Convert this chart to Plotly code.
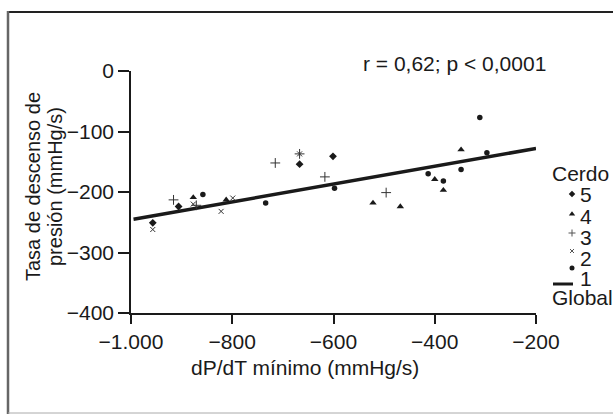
import plotly.graph_objects as go

# ---- data ----
cerdo5_x = [-957, -906, -667, -601]
cerdo5_y = [-251, -224, -154, -141]

cerdo4_x = [-877, -812, -522, -468, -400, -383, -348]
cerdo4_y = [-209, -213, -218, -224, -179, -197, -130]

cerdo3_x = [-916, -871, -715, -667, -617, -496]
cerdo3_y = [-213, -222, -152, -137, -175, -201]

cerdo2_x = [-957, -877, -822, -799, -667]
cerdo2_y = [-262, -220, -232, -210, -137]

cerdo1_x = [-858, -734, -598, -413, -383, -348, -311, -297]
cerdo1_y = [-204, -218, -194, -170, -182, -163, -77, -135]

global_x = [-995, -200]
global_y = [-245, -128]

x_ticks = [-1000, -800, -600, -400, -200]
x_ticktext = ["\u22121.000", "\u2212800", "\u2212600", "\u2212400", "\u2212200"]
y_ticks = [0, -100, -200, -300, -400]
y_ticktext = ["0", "\u2212100", "\u2212200", "\u2212300", "\u2212400"]

legend_title = "Cerdo"
legend_labels = ["5", "4", "3", "2", "1"]
legend_global = "Global"

FONT = "Liberation Sans, Arial, sans-serif"
INK = "#1a1a1a"
W, H = 613, 418
L, R, T, B = 131, 536, 71, 313


def fx(p):
    return p / W


def fy(p):
    return 1 - p / H


series = [
    (cerdo5_x, cerdo5_y, "5", dict(symbol="diamond", size=6, color=INK)),
    (cerdo4_x, cerdo4_y, "4", dict(symbol="triangle-up", size=6.5, color=INK)),
    (cerdo3_x, cerdo3_y, "3", dict(symbol="cross-thin", size=7, color=INK, line=dict(width=1, color="#333"))),
    (cerdo2_x, cerdo2_y, "2", dict(symbol="x-thin", size=5, color=INK, line=dict(width=1, color="#333"))),
    (cerdo1_x, cerdo1_y, "1", dict(symbol="circle", size=5.5, color=INK)),
]

fig = go.Figure()
fig.add_trace(go.Scatter(x=global_x, y=global_y, mode="lines", name=legend_global,
                         line=dict(color=INK, width=3.5), hoverinfo="skip"))
for xs, ys, nm, mk in series:
    fig.add_trace(go.Scatter(x=xs, y=ys, mode="markers", name=nm, marker=mk))

# ---- hand-built legend (glyphs on an invisible page-sized overlay axis) ----
leg_glyph_x = 572
leg_glyph_y = [194, 214, 233, 251, 268]
leg_text_y = [195, 216, 237, 258, 278]
glyph_markers = [
    dict(symbol="diamond", size=5, color=INK),
    dict(symbol="triangle-up", size=5.5, color=INK),
    dict(symbol="cross-thin", size=5, color=INK, line=dict(width=1, color="#555")),
    dict(symbol="x-thin", size=4, color=INK, line=dict(width=1, color="#555")),
    dict(symbol="circle", size=5, color=INK),
]
for gy, mk in zip(leg_glyph_y, glyph_markers):
    fig.add_trace(go.Scatter(x=[leg_glyph_x], y=[gy], mode="markers", marker=mk,
                             xaxis="x2", yaxis="y2", hoverinfo="skip"))
fig.add_trace(go.Scatter(x=[553, 573], y=[284, 284], mode="lines", line=dict(color=INK, width=3),
                         xaxis="x2", yaxis="y2", hoverinfo="skip"))

annotations = [
    dict(text="r = 0,62; p < 0,0001", x=fx(454), y=fy(63), font=dict(size=21)),
    dict(text="dP/dT mínimo (mmHg/s)", x=fx(305), y=fy(367), font=dict(size=21)),
    dict(text="Tasa de descenso de", x=fx(33), y=fy(187), textangle=-90, font=dict(size=20)),
    dict(text="presión (mmHg/s)", x=fx(55), y=fy(187), textangle=-90, font=dict(size=20)),
    dict(text=legend_title, x=fx(550), y=fy(173), xanchor="left", font=dict(size=21)),
    dict(text=legend_global, x=fx(550), y=fy(297), xanchor="left", font=dict(size=21)),
]
for lab, ty in zip(legend_labels, leg_text_y):
    annotations.append(dict(text=lab, x=fx(578), y=fy(ty), xanchor="left", font=dict(size=21)))
for a in annotations:
    a.update(xref="paper", yref="paper", showarrow=False)
    a.setdefault("xanchor", "center")
    a["yanchor"] = "middle"

fig.update_layout(
    template="none",
    width=W, height=H, autosize=False,
    margin=dict(l=0, r=0, t=0, b=0, pad=0),
    paper_bgcolor="white", plot_bgcolor="rgba(0,0,0,0)",
    font=dict(family=FONT, size=21, color=INK),
    showlegend=False,
    xaxis=dict(domain=[fx(L), fx(R)], range=[-1000, -200], tickvals=x_ticks, ticktext=x_ticktext,
               showgrid=False, zeroline=False, showline=True, linecolor=INK, linewidth=1.5,
               ticks="outside", ticklen=9, tickwidth=1.5, tickcolor=INK,
               tickfont=dict(size=21, color=INK), automargin=False, anchor="y"),
    yaxis=dict(domain=[fy(B), fy(T)], range=[-400, 0], tickvals=y_ticks, ticktext=y_ticktext,
               showgrid=False, zeroline=False, showline=True, linecolor=INK, linewidth=1.5,
               ticks="outside", ticklen=11, tickwidth=1.5, tickcolor=INK,
               tickfont=dict(size=21, color=INK), automargin=False, anchor="x"),
    xaxis2=dict(domain=[0, 1], range=[0, W], visible=False, anchor="y2", fixedrange=True),
    yaxis2=dict(domain=[0, 1], range=[H, 0], visible=False, anchor="x2", fixedrange=True),
    annotations=annotations,
    shapes=[
        dict(type="line", xref="paper", yref="paper", x0=fx(8), x1=fx(613), y0=fy(12), y1=fy(12),
             line=dict(color="#222", width=2)),
        dict(type="line", xref="paper", yref="paper", x0=fx(8), x1=fx(8), y0=fy(11), y1=fy(414),
             line=dict(color="#666", width=2.5)),
        dict(type="line", xref="paper", yref="paper", x0=fx(8), x1=fx(613), y0=fy(413), y1=fy(413),
             line=dict(color="#aaa", width=1)),
    ],
)

fig.write_html(
    "out.html",
    config={"displayModeBar": False},
    post_script="document.body.style.margin='0';document.body.style.padding='0';"
                "document.body.style.overflow='hidden';",
)
